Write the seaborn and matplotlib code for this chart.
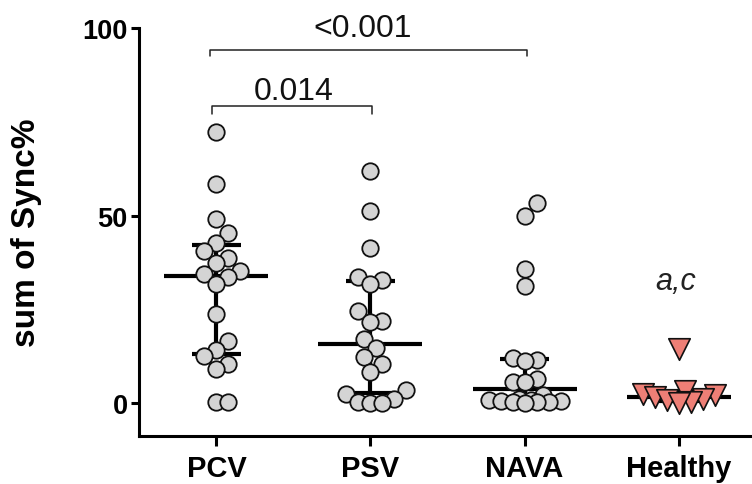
import numpy as np
import pandas as pd
import seaborn as sns
import matplotlib.pyplot as plt

# values (sum of Sync %)
groups = ["PCV", "PSV", "NAVA", "Healthy"]
pcv = [72.4, 58.4, 49.1, 45.5, 42.7, 40.6, 38.8, 37.3, 35.3, 34.4,
       33.5, 31.7, 23.7, 16.6, 14.2, 12.6, 10.4, 9.2, 0.2, 0.2]
psv = [61.8, 51.3, 41.5, 33.5, 32.9, 31.7, 24.6, 21.9, 21.7, 17.1,
       14.6, 12.2, 10.4, 8.2, 3.6, 2.4, 1.1, 0.2, 0.0, 0.0]
nava = [53.3, 49.8, 35.7, 31.1, 11.9, 11.6, 11.3, 6.4, 5.7, 5.5,
        2.1, 1.0, 0.9, 0.8, 0.6, 0.5, 0.4, 0.3, 0.2, 0.1]
healthy = [14.5, 3.3, 2.5, 2.2, 1.5, 1.0, 0.8, 0.4, 0.1]
p_labels = ["0.014", "<0.001"]
healthy_note = "a,c"

sns.set_style("ticks")
plt.rcParams["font.family"] = ["Liberation Sans", "DejaVu Sans"]
plt.rcParams["text.color"] = "black"
plt.rcParams["xtick.color"] = "black"
plt.rcParams["ytick.color"] = "black"
plt.rcParams["axes.labelcolor"] = "black"

fig = plt.figure(figsize=(7.52, 4.85), dpi=100)
ax = fig.add_axes([0.1848, 0.099, 0.8152, 0.8406])
xlim = (-0.503, 3.477)
ylim = (-8.8, 100)
ax.set_xlim(*xlim)
ax.set_ylim(*ylim)

# pixel scale, used to lay the points out side by side like Prism does
px_x = 752 * 0.8152 / (xlim[1] - xlim[0])
px_y = 485 * 0.8406 / (ylim[1] - ylim[0])


def spread(vals, step=6.0, gx=12.0, gy=16.5, kmax=6):
    vals = np.asarray(vals, dtype=float)
    offs = np.zeros(len(vals))
    placed = []
    ks = [0] + [s * k for k in range(1, kmax + 1) for s in (1, -1)]
    for i in np.argsort(vals):
        y = vals[i] * px_y
        best, best_d = 0.0, -1.0
        for k in ks:
            x = k * step
            d = min([np.hypot((x - a) / gx, (y - b) / gy) for a, b in placed] or [9.0])
            if d >= 1:
                best = x
                break
            if d > best_d:
                best, best_d = x, d
        placed.append((best, y))
        offs[i] = best / px_x
    return offs


rows = []
for pos, (g, vals) in enumerate(zip(groups, [pcv, psv, nava, healthy])):
    for v, o in zip(vals, spread(vals)):
        rows.append({"group": g, "pos": pos, "value": v, "xpos": pos + o})
df = pd.DataFrame(rows)


def iqr(x):
    return (np.percentile(x, 25, method="weibull"),
            np.percentile(x, 75, method="weibull"))


# median with interquartile range
sns.pointplot(data=df, x="pos", y="value", native_scale=True, estimator="median",
              errorbar=iqr, capsize=0.32, color="black", markers="_",
              linestyle="none", markersize=75, markeredgewidth=3,
              err_kws={"linewidth": 3, "solid_capstyle": "butt"}, ax=ax)

pat = df[df["group"] != "Healthy"]
sns.scatterplot(data=pat, x="xpos", y="value", s=140, color="#d4d4d4",
                edgecolor="#111111", linewidth=1.3, zorder=3, legend=False, ax=ax)
hlt = df[df["group"] == "Healthy"]
sns.scatterplot(data=hlt, x="xpos", y="value", marker="v", s=240, color="#ee7f76",
                edgecolor="#111111", linewidth=1.2, zorder=3, legend=False, ax=ax)

# significance brackets
br = dict(color="#222222", linewidth=1.1, clip_on=False)
ax.plot([-0.03, -0.03, 1.008, 1.008], [77.1, 79.2, 79.2, 77.1], **br)
ax.plot([-0.042, -0.042, 2.018, 2.018], [92.7, 94.3, 94.3, 92.7], **br)
ax.text(0.503, 81.1, p_labels[0], ha="center", va="baseline", fontsize=23, color="#111111")
ax.text(0.949, 97.9, p_labels[1], ha="center", va="baseline", fontsize=23, color="#111111")
ax.text(2.98, 30.4, healthy_note, ha="center", va="baseline", fontsize=22,
        style="italic", color="#222222")

# axes styling
for s in ["top", "right"]:
    ax.spines[s].set_visible(False)
for s in ["left", "bottom"]:
    ax.spines[s].set_linewidth(2.2)
    ax.spines[s].set_color("black")
ax.spines["left"].set_bounds(ylim[0], 100)

ax.set_xticks(range(len(groups)))
ax.set_xticklabels(groups, fontsize=21, fontweight="bold")
ax.set_yticks([0, 50, 100])
ax.set_yticklabels(["0", "50", "100"], fontsize=19.5, fontweight="bold")
ax.tick_params(axis="both", width=2.2, length=6, color="black", labelcolor="black")
ax.tick_params(axis="x", length=7, pad=6)
ax.tick_params(axis="y", pad=2)
ax.set_xlabel("")
ax.set_ylabel("sum of Sync%", fontsize=24, fontweight="bold", color="black")
ax.yaxis.set_label_coords(-0.158, 0.5)

plt.savefig("out.png", dpi=100)
